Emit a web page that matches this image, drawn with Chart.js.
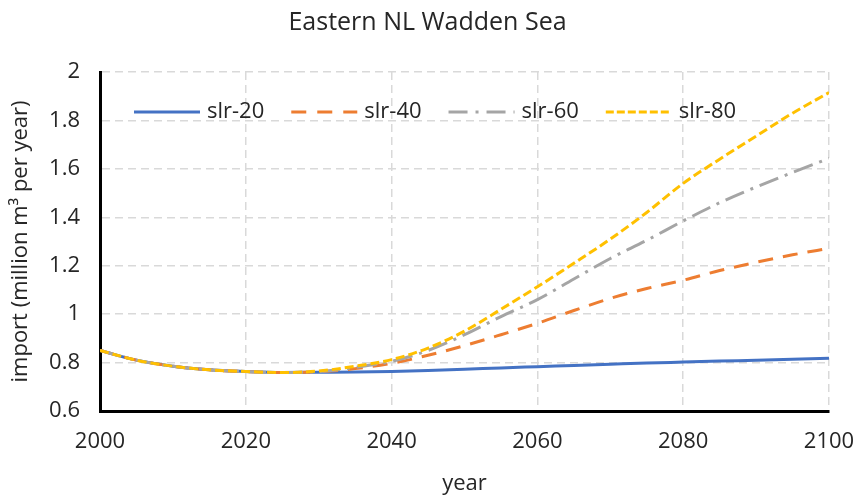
<!DOCTYPE html>
<html>
<head>
<meta charset="utf-8">
<script src="https://cdn.jsdelivr.net/npm/chart.js@4"></script>
<style>
  html, body { margin: 0; padding: 0; background: #fff; }
  #wrap { width: 855px; height: 497px; }
</style>
</head>
<body>
<div id="wrap"><canvas id="myChart"></canvas></div>
<script>
const years = [2000, 2005, 2010, 2015, 2020, 2025, 2030, 2035, 2040, 2045, 2050, 2055, 2060, 2065, 2070, 2075, 2080, 2085, 2090, 2095, 2100];
const slr20 = [0.85, 0.81, 0.785, 0.77, 0.763, 0.759, 0.76, 0.761, 0.763, 0.767, 0.772, 0.778, 0.783, 0.788, 0.793, 0.798, 0.802, 0.806, 0.81, 0.814, 0.818];
const slr40 = [0.85, 0.81, 0.785, 0.77, 0.763, 0.759, 0.762, 0.775, 0.797, 0.83, 0.87, 0.915, 0.962, 1.015, 1.065, 1.106, 1.14, 1.18, 1.214, 1.245, 1.272];
const slr60 = [0.85, 0.81, 0.785, 0.77, 0.763, 0.759, 0.763, 0.78, 0.805, 0.85, 0.915, 0.99, 1.06, 1.145, 1.23, 1.305, 1.385, 1.46, 1.525, 1.585, 1.643];
const slr80 = [0.85, 0.81, 0.785, 0.77, 0.763, 0.759, 0.765, 0.785, 0.812, 0.86, 0.93, 1.02, 1.113, 1.21, 1.31, 1.42, 1.54, 1.64, 1.735, 1.83, 1.915];
const yearTicks = [2000, 2020, 2040, 2060, 2080, 2100];
const importTicks = [0.6, 0.8, 1, 1.2, 1.4, 1.6, 1.8, 2];

const FONT = "'Open Sans', 'Noto Sans', sans-serif";
const TEXT = "#262626";
const pts = (vals) => years.map((y, i) => ({ x: y, y: vals[i] }));

// legend drawn inside the plot, in one row, with the series' own dashes
const inlineLegend = {
  id: "inlineLegend",
  afterDraw(chart) {
    const c = chart.ctx;
    const area = chart.chartArea;
    let x = area.left + 34;
    const y = area.top + 40;
    c.save();
    c.font = "22px " + FONT;
    c.textBaseline = "middle";
    c.textAlign = "left";
    chart.data.datasets.forEach((ds) => {
      c.strokeStyle = ds.borderColor;
      c.lineWidth = 3;
      c.setLineDash(ds.legendDash || []);
      c.beginPath();
      c.moveTo(x, y);
      c.lineTo(x + 66, y);
      c.stroke();
      c.setLineDash([]);
      c.fillStyle = TEXT;
      c.fillText(ds.label, x + 73, y);
      x += 73 + c.measureText(ds.label).width + 27;
    });
    c.restore();
  },
};

const ctx = document.getElementById("myChart");

new Chart(ctx, {
  type: "line",
  data: {
    datasets: [
      {
        label: "slr-20",
        data: pts(slr20),
        borderColor: "#4472C4",
        backgroundColor: "#4472C4",
        borderWidth: 3,
        order: 3,
      },
      {
        label: "slr-40",
        data: pts(slr40),
        borderColor: "#ED7D31",
        backgroundColor: "#ED7D31",
        borderWidth: 3,
        borderDash: [15, 10],
        legendDash: [15, 11],
        order: 2,
      },
      {
        label: "slr-60",
        data: pts(slr60),
        borderColor: "#A5A5A5",
        backgroundColor: "#A5A5A5",
        borderWidth: 3,
        borderDash: [20, 7, 3, 7],
        legendDash: [19, 8, 3, 8],
        order: 1,
      },
      {
        label: "slr-80",
        data: pts(slr80),
        borderColor: "#FFC000",
        backgroundColor: "#FFC000",
        borderWidth: 3,
        borderDash: [9, 4],
        legendDash: [8, 3],
        order: 0,
      },
    ],
  },
  options: {
    responsive: true,
    maintainAspectRatio: false,
    animation: false,
    elements: {
      point: { radius: 0 },
      line: { cubicInterpolationMode: "monotone" },
    },
    layout: { padding: 0 },
    plugins: {
      tooltip: { enabled: false },
      legend: { display: false },
      title: {
        display: true,
        text: "Eastern NL Wadden Sea",
        color: TEXT,
        font: { family: FONT, size: 25, weight: "normal" },
        padding: { top: 8, bottom: 34 },
      },
    },
    scales: {
      x: {
        type: "linear",
        min: 2000,
        max: 2100,
        afterBuildTicks: (axis) => {
          axis.ticks = yearTicks.map((v) => ({ value: v }));
        },
        afterFit: (axis) => {
          axis.height = 86;
          axis.paddingRight = 26;
        },
        ticks: {
          callback: (value) => String(value),
          color: TEXT,
          font: { family: FONT, size: 22 },
          padding: 18,
          maxRotation: 0,
        },
        grid: { color: "#d9d9d9", lineWidth: 1.5, drawTicks: false },
        border: { color: "#000", width: 3, dash: [8, 5] },
        title: {
          display: true,
          text: "year",
          color: TEXT,
          font: { family: FONT, size: 22 },
          padding: { top: 0, bottom: 0 },
        },
      },
      y: {
        min: 0.6,
        max: 2,
        afterBuildTicks: (axis) => {
          axis.ticks = importTicks.map((v) => ({ value: v }));
        },
        afterFit: (axis) => {
          axis.width = 100;
        },
        ticks: {
          callback: (value) => String(value),
          color: TEXT,
          font: { family: FONT, size: 22 },
          padding: 20,
        },
        grid: { color: "#d9d9d9", lineWidth: 1.5, drawTicks: false },
        border: { color: "#000", width: 3, dash: [8, 5] },
        title: {
          display: true,
          text: "import (million m³ per year)",
          color: TEXT,
          font: { family: FONT, size: 22 },
          padding: { top: 8, bottom: 0 },
        },
      },
    },
  },
  plugins: [inlineLegend],
});
</script>
</body>
</html>
